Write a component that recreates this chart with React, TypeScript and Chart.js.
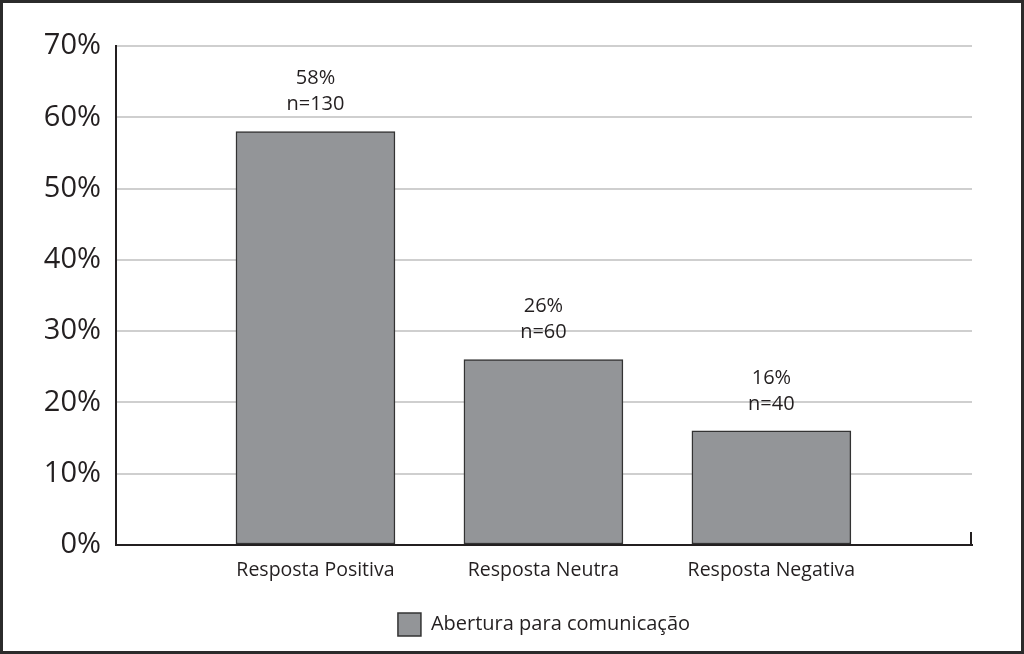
import React, { useEffect, useRef } from "react";
import { Chart, registerables } from "chart.js";

Chart.register(...registerables);

const categories = ["Resposta Positiva", "Resposta Neutra", "Resposta Negativa"];
const percentValues = [58, 26, 16];
const counts = [130, 60, 40];
const seriesName = "Abertura para comunicação";
const yTicks = [0, 10, 20, 30, 40, 50, 60, 70];

const FONT = "'Open Sans', 'Noto Sans', sans-serif";
const TEXT = "#231f20";

export default function App() {
  const ref = useRef<HTMLCanvasElement | null>(null);

  useEffect(() => {
    document.body.style.margin = "0";
    const canvas = ref.current!;
    const frame = {
      id: "frame",
      afterLayout(chart: any) {
        const a = chart.chartArea;
        if (chart.legend) {
          chart.legend.left = a.left;
          chart.legend.right = a.right;
        }
      },
      beforeDraw(chart: any) {
        const ctx = chart.ctx;
        ctx.save();
        ctx.fillStyle = "#ffffff";
        ctx.fillRect(0, 0, chart.width, chart.height);
        ctx.restore();
      },
      afterDraw(chart: any) {
        const ctx = chart.ctx;
        ctx.save();
        ctx.strokeStyle = "#2b2b2b";
        ctx.lineWidth = 3;
        ctx.strokeRect(1.5, 1.5, chart.width - 3, chart.height - 3);
        const a = chart.chartArea;
        ctx.strokeStyle = TEXT;
        ctx.lineWidth = 2;
        ctx.beginPath();
        ctx.moveTo(a.right - 1, a.bottom);
        ctx.lineTo(a.right - 1, a.bottom - 13);
        ctx.stroke();
        ctx.restore();
      },
    };
    const labels = {
      id: "barLabels",
      afterDatasetsDraw(chart: any) {
        const ctx = chart.ctx;
        const meta = chart.getDatasetMeta(0);
        ctx.save();
        ctx.fillStyle = TEXT;
        ctx.font = `20px ${FONT}`;
        ctx.textAlign = "center";
        ctx.textBaseline = "middle";
        meta.data.forEach((bar: any, i: number) => {
          ctx.fillText(`${percentValues[i]}%`, bar.x, bar.y - 53);
          ctx.fillText(`n=${counts[i]}`, bar.x, bar.y - 27);
        });
        ctx.restore();
      },
    };

    const chart = new Chart(canvas, {
      type: "bar",
      data: {
        datasets: [
          {
            label: seriesName,
            data: percentValues.map((v, i) => ({ x: i + 1, y: v })),
            backgroundColor: "#939598",
            borderColor: "#333333",
            borderWidth: 1.5,
            borderSkipped: false,
            barThickness: 159,
          },
        ],
      },
      options: {
        animation: false,
        responsive: false,
        devicePixelRatio: 1,
        layout: { padding: { left: 0, right: 52, top: 46, bottom: 8 } },
        plugins: {
          legend: {
            display: true,
            position: "bottom",
            labels: {
              boxWidth: 23,
              boxHeight: 23,
              padding: 10,
              color: TEXT,
              font: { family: FONT, size: 20 },
            },
          },
          tooltip: { enabled: false },
        },
        scales: {
          x: {
            type: "linear",
            offset: false,
            min: 0.125,
            max: 3.88,
            grid: { display: false, drawTicks: false, offset: false },
            border: { display: true, color: TEXT, width: 2 },
            ticks: {
              stepSize: 1,
              includeBounds: false,
              autoSkip: false,
              maxRotation: 0,
              padding: 14,
              color: TEXT,
              font: { family: FONT, size: 19.5 },
              callback: (v: any) =>
                Number.isInteger(v) && v >= 1 && v <= categories.length ? categories[v - 1] : "",
            },
            afterFit: (s: any) => {
              s.height = 58;
            },
          },
          y: {
            min: yTicks[0],
            max: yTicks[yTicks.length - 1],
            grid: { color: "#cfcfcf", lineWidth: 2, drawTicks: false },
            border: { display: true, color: TEXT, width: 2 },
            ticks: {
              stepSize: 10,
              padding: 15,
              color: TEXT,
              font: { family: FONT, size: 29 },
              callback: (v: any) => `${v}%`,
            },
            afterFit: (s: any) => {
              s.width = 116;
            },
          },
        },
      },
      plugins: [frame, labels],
    } as any);
    return () => chart.destroy();
  }, []);

  return (
    <div style={{ width: 1024, height: 654 }}>
      <canvas ref={ref} width={1024} height={654} style={{ display: "block" }} />
    </div>
  );
}
